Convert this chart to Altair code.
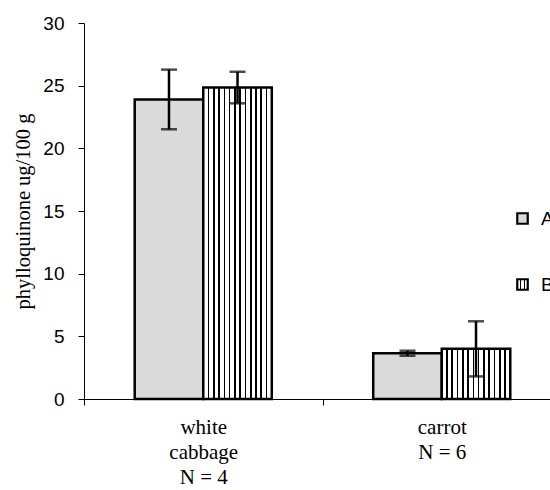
import altair as alt
import pandas as pd

categories = ["white|cabbage|N = 4", "carrot|N = 6"]
series = ["A", "B"]
mean_A = [23.9, 3.65]
mean_B = [24.85, 4.0]
err_A = [2.38, 0.2]
err_B = [1.26, 2.2]

rows = []
for i, c in enumerate(categories):
    rows.append({"cat": c, "series": "A", "value": mean_A[i], "err": err_A[i]})
    rows.append({"cat": c, "series": "B", "value": mean_B[i], "err": err_B[i]})
df = pd.DataFrame(rows)

# vertical stripe gradient for series B
n_stripes = 13
half = 0.012
stops = []
for k in range(n_stripes + 1):
    p = k / n_stripes
    a, b = max(0.0, p - half), min(1.0, p + half)
    stops.append(f"{{offset: {a:.4f}, color: 'white'}}")
    stops.append(f"{{offset: {a:.4f}, color: 'black'}}")
    stops.append(f"{{offset: {b:.4f}, color: 'black'}}")
    stops.append(f"{{offset: {b:.4f}, color: 'white'}}")
stripe_expr = "{gradient: 'linear', x1: 0, y1: 0, x2: 1, y2: 0, stops: [" + ", ".join(stops) + "]}"

x_enc = alt.X(
    "cat:N",
    sort=categories,
    scale=alt.Scale(range=[0, 477], paddingInner=0, paddingOuter=0),
    axis=alt.Axis(
        title=None,
        labelExpr="split(datum.label, '|')",
        labelAngle=0,
        labelFont="Liberation Serif",
        labelFontSize=21,
        labelLineHeight=25,
        labelColor="black",
        labelPadding=11,
        labelBaseline="top",
        tickBand="extent",
        tickSize=6,
        tickColor="black",
        tickWidth=1,
        domainColor="black",
        domainWidth=1.2,
    ),
)
xoff = alt.XOffset("series:N", scale=alt.Scale(domain=series, paddingInner=0, paddingOuter=0.74))
y_enc = alt.Y(
    "value:Q",
    scale=alt.Scale(domain=[0, 30], nice=False),
    axis=alt.Axis(
        title="phylloquinone ug/100 g",
        titleFont="Liberation Serif",
        titleFontSize=20.5,
        titleFontWeight="normal",
        titleColor="black",
        titlePadding=9,
        values=[0, 5, 10, 15, 20, 25, 30],
        labelFont="Liberation Sans",
        labelFontSize=19,
        labelColor="black",
        labelPadding=14,
        tickSize=6,
        tickColor="black",
        domainColor="black",
        grid=False,
    ),
)

base = alt.Chart(df)

bars = base.mark_bar(stroke="black", strokeWidth=2.5).encode(
    x=x_enc,
    xOffset=xoff,
    y=y_enc,
    fill=alt.Fill(
        "series:N",
        scale=alt.Scale(domain=series, range=["#dadada", {"expr": stripe_expr}]),
        legend=alt.Legend(
            title=None,
            orient="none",
            legendX=429,
            legendY=186,
            symbolType="square",
            symbolSize=110,
            symbolStrokeColor="black",
            symbolStrokeWidth=2.2,
            labelFont="Liberation Sans",
            labelFontSize=19,
            labelColor="black",
            labelOffset=9,
            rowPadding=45,
            padding=0,
        ),
    ),
)

rule = base.mark_rule(color="black", strokeWidth=2.5).encode(
    x=alt.X("cat:N", sort=categories),
    xOffset=xoff,
    y=alt.Y("lo:Q"),
    y2="hi:Q",
).transform_calculate(lo="datum.value - datum.err", hi="datum.value + datum.err")

cap_hi = base.mark_tick(color="black", thickness=2.5, size=16, orient="horizontal").encode(
    x=alt.X("cat:N", sort=categories),
    xOffset=xoff,
    y=alt.Y("hi:Q"),
).transform_calculate(hi="datum.value + datum.err")

cap_lo = base.mark_tick(color="black", thickness=2.5, size=16, orient="horizontal").encode(
    x=alt.X("cat:N", sort=categories),
    xOffset=xoff,
    y=alt.Y("lo:Q"),
).transform_calculate(lo="datum.value - datum.err")

chart = (
    alt.layer(bars, rule, cap_hi, cap_lo)
    .properties(
        width=466,
        height=376,
        autosize=alt.AutoSizeParams(type="none"),
        padding={"left": 84, "top": 23, "right": 0, "bottom": 91},
        background="white",
    )
    .configure_view(strokeWidth=0)
)

chart.save("out.html", embed_options={"renderer": "svg", "actions": False})
